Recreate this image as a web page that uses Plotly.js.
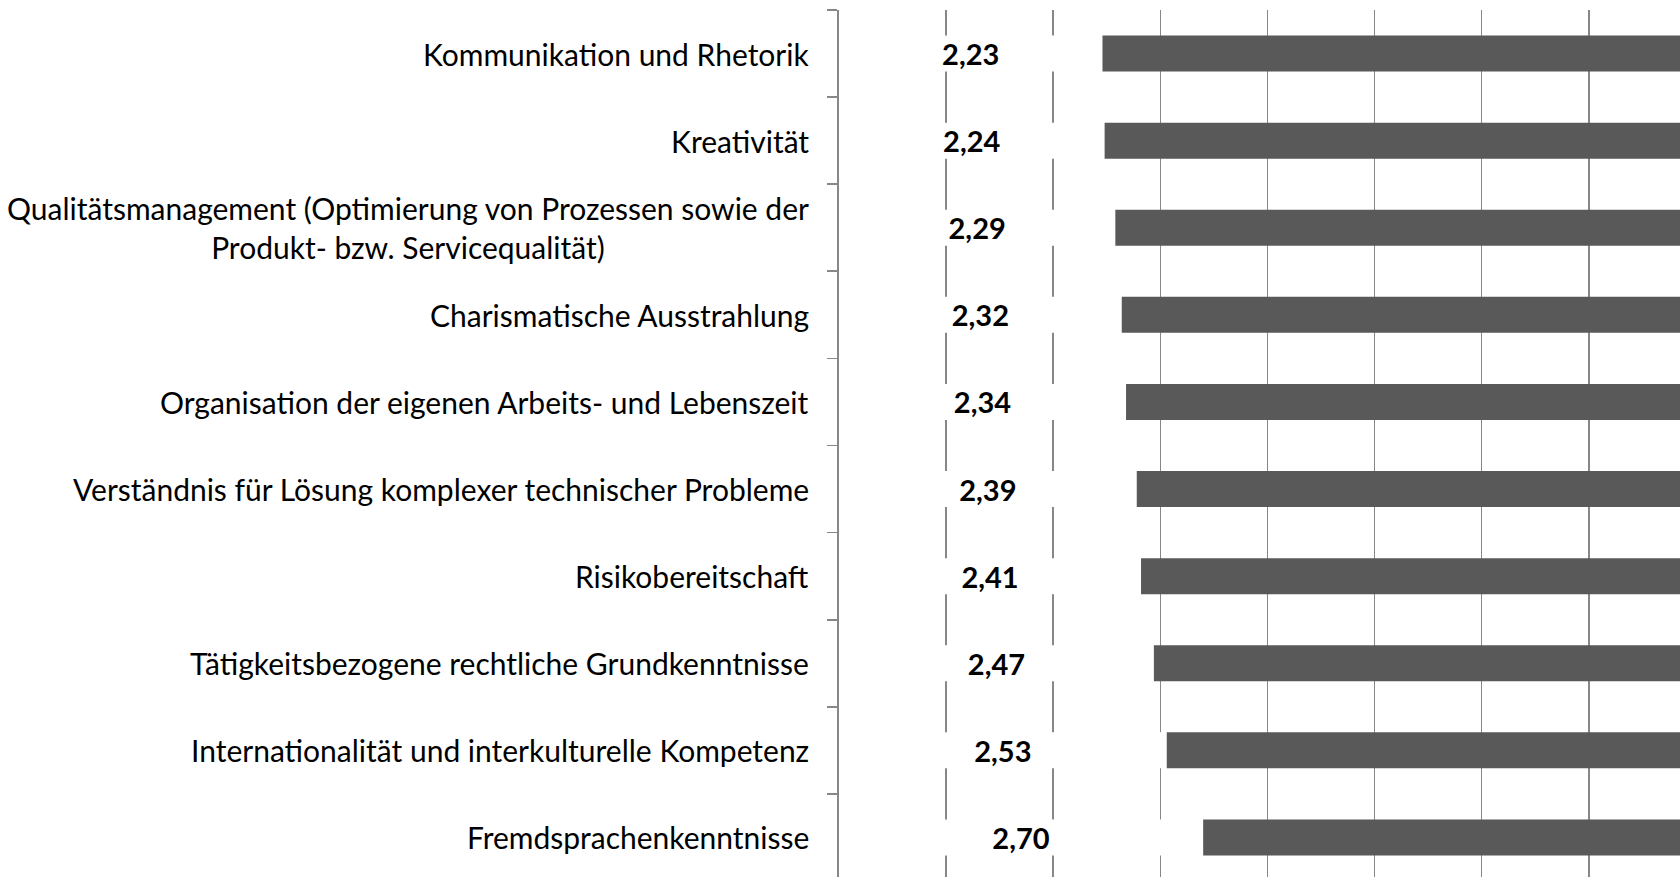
<!DOCTYPE html>
<html>
<head>
<meta charset="utf-8">
<script src="https://cdn.plot.ly/plotly-3.0.1.min.js"></script>
<style>
  html, body { margin: 0; padding: 0; overflow: hidden; background: #fff; }
  #chart { width: 1680px; height: 881px; }
  #chart text { font-variant-ligatures: none; }
</style>
</head>
<body>
<div id="chart"></div>
<script>
var categories = [
    'Kommunikation und Rhetorik',
    'Kreativität',
    'Qualitätsmanagement (Optimierung von Prozessen sowie der<br>Produkt- bzw. Servicequalität)',
    'Charismatische Ausstrahlung',
    'Organisation der eigenen Arbeits- und Lebenszeit',
    'Verständnis für Lösung komplexer technischer Probleme',
    'Risikobereitschaft',
    'Tätigkeitsbezogene rechtliche Grundkenntnisse',
    'Internationalität und interkulturelle Kompetenz',
    'Fremdsprachenkenntnisse'
];
var values = [2.23, 2.24, 2.29, 2.32, 2.34, 2.39, 2.41, 2.47, 2.53, 2.70];
var scaleMin = 1;
var scaleMax = 6;

var labelFont = 'Lato, "Open Sans", sans-serif';

// white bar from the scale start to the value, carries the label
var data = [{
    type: 'bar',
    orientation: 'h',
    y: categories,
    x: values.map(function(v) { return v - scaleMin; }),
    base: scaleMin,
    width: 0.413,
    marker: {color: '#ffffff', line: {width: 0}},
    text: values.map(function(v) { return v.toFixed(2).replace('.', ','); }),
    textposition: 'inside',
    insidetextanchor: 'middle',
    constraintext: 'none',
    textfont: {family: labelFont, size: 29, color: '#000000', weight: 'bold'},
    hoverinfo: 'none'
}, {
    // dark bar from the value onward
    type: 'bar',
    orientation: 'h',
    y: categories,
    x: values.map(function(v) { return scaleMax - v; }),
    base: values,
    width: 0.413,
    marker: {color: '#595959', line: {width: 0}},
    hoverinfo: 'none'
}];

var annotations = categories.map(function(c) {
    return {
        xref: 'paper', yref: 'y',
        x: 0, y: c,
        xanchor: 'right', yanchor: 'middle',
        xshift: -28,
        align: 'center',
        showarrow: false,
        text: c,
        font: {family: labelFont, size: 30, color: '#000000'}
    };
});

var layout = {
    width: 1680,
    height: 881,
    margin: {t: 10, b: 0, l: 839, r: 0},
    barmode: 'overlay',
    showlegend: false,
    paper_bgcolor: '#ffffff',
    plot_bgcolor: '#ffffff',
    xaxis: {
        range: [1, 4.926],
        dtick: 0.5,
        tick0: 1,
        showgrid: true,
        gridcolor: '#878787',
        gridwidth: 1.6,
        zeroline: false,
        showline: false,
        showticklabels: false,
        ticks: '',
        fixedrange: true
    },
    yaxis: {
        type: 'category',
        autorange: 'reversed',
        showgrid: false,
        zeroline: false,
        showline: true,
        linecolor: '#878787',
        linewidth: 1.6,
        ticks: 'outside',
        tickson: 'boundaries',
        ticklen: 10,
        tickwidth: 1.6,
        tickcolor: '#878787',
        showticklabels: false,
        fixedrange: true
    },
    annotations: annotations
};

Plotly.newPlot('chart', data, layout, {displayModeBar: false, staticPlot: true});
</script>
</body>
</html>
